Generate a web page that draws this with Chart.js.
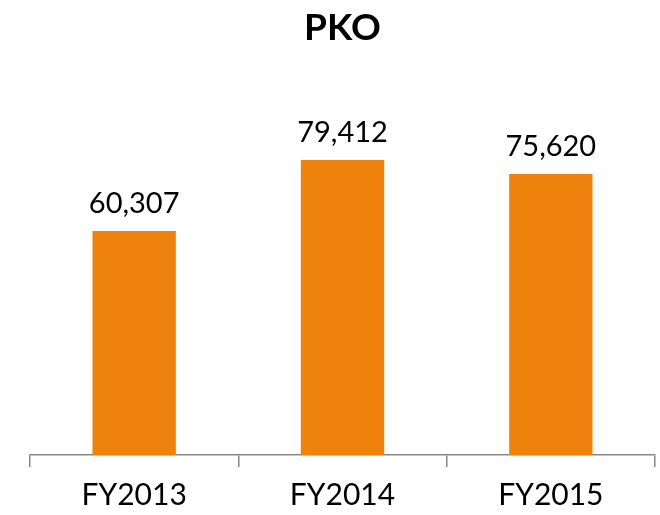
<!DOCTYPE html>
<html>
<head>
<meta charset="utf-8">
<script src="https://cdn.jsdelivr.net/npm/chart.js@4/dist/chart.umd.min.js"></script>
<style>
html,body{margin:0;padding:0;background:#fff;}
#wrap{width:660px;height:515px;}
</style>
</head>
<body>
<div id="wrap"><canvas id="c" width="660" height="515"></canvas></div>
<script>
const categories = ['FY2013', 'FY2014', 'FY2015'];
const values = [60307, 79412, 75620];
const chartTitle = 'PKO';

const FONT = 'Lato, "Open Sans", sans-serif';

const valueLabels = {
  id: 'valueLabels',
  afterDatasetsDraw(chart) {
    const ctx = chart.ctx;
    const meta = chart.getDatasetMeta(0);
    ctx.save();
    ctx.font = '29px ' + FONT;
    ctx.fillStyle = '#000';
    ctx.textAlign = 'center';
    ctx.textBaseline = 'alphabetic';
    meta.data.forEach((bar, i) => {
      const p = bar.getProps(['x', 'y'], true);
      ctx.fillText(values[i].toLocaleString('en-US'), p.x, p.y - 18);
    });
    ctx.restore();
  }
};

new Chart(document.getElementById('c'), {
  type: 'bar',
  data: {
    labels: categories,
    datasets: [{
      data: values,
      backgroundColor: '#EE820C',
      borderWidth: 0,
      categoryPercentage: 1,
      barPercentage: 0.4
    }]
  },
  options: {
    responsive: false,
    animation: false,
    layout: { padding: { left: 30, right: 5, top: 0, bottom: 0 } },
    plugins: {
      legend: { display: false },
      tooltip: { enabled: false },
      title: {
        display: true,
        text: chartTitle,
        color: '#000',
        font: { family: FONT, size: 37, weight: 'bold' },
        padding: { top: 6, bottom: 33 }
      }
    },
    scales: {
      x: {
        offset: true,
        afterFit(scale) { scale.height = 60; },
        grid: {
          offset: true,
          drawOnChartArea: false,
          drawTicks: true,
          tickLength: 12,
          color: '#888888',
          lineWidth: 1.5
        },
        border: { display: true, color: '#888888', width: 1.5 },
        ticks: {
          color: '#000',
          font: { family: FONT, size: 30 },
          padding: 10
        }
      },
      y: {
        display: false,
        min: 0,
        max: 100000
      }
    }
  },
  plugins: [valueLabels]
});
</script>
</body>
</html>
